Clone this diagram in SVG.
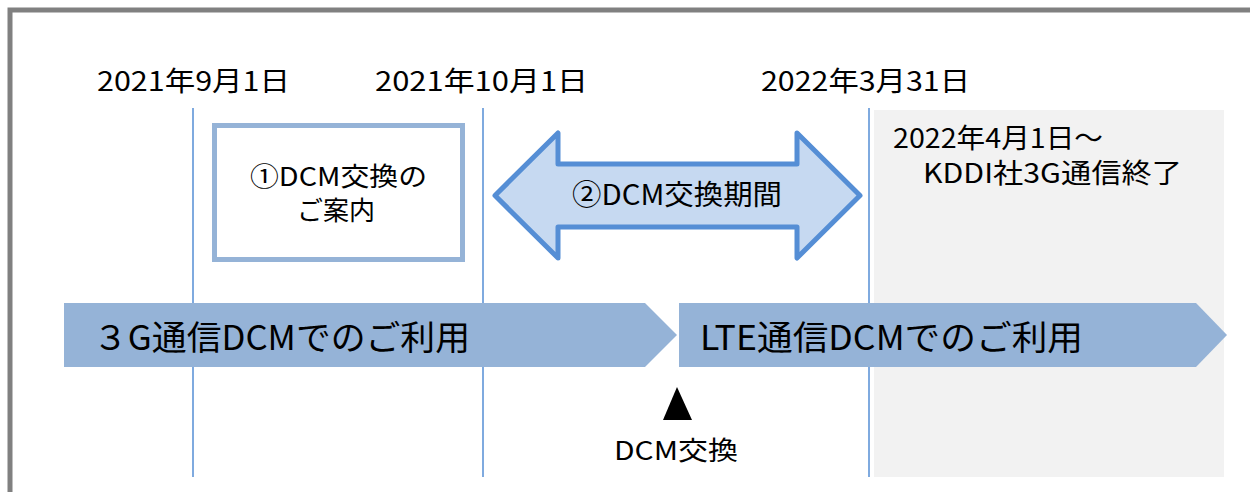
<svg xmlns="http://www.w3.org/2000/svg" width="1250" height="492" viewBox="0 0 1250 492">
<style>
text{font-family:"Noto Sans CJK JP","Noto Sans",sans-serif;fill:#000;}
.date{font-size:27px;text-anchor:middle;}
.lbl{font-size:26px;}
.bar{fill:#95b3d7;}
.barText{font-size:34px;}
.vline{stroke:#558ed5;stroke-width:1.5;fill:none;}
</style>
<rect x="0" y="0" width="1250" height="492" fill="#fff"/>
<rect x="10" y="10" width="1300" height="600" fill="#fff" stroke="#808080" stroke-width="5"/>
<g id="period-end">
<rect x="874" y="110" width="350" height="367" fill="#f2f2f2"/>
<text class="lbl" x="893" y="148" textLength="210" lengthAdjust="spacingAndGlyphs" style="font-size:27px">2022年4月1日～</text>
<text class="lbl" x="923" y="183" textLength="259" lengthAdjust="spacingAndGlyphs" style="font-size:27px">KDDI社3G通信終了</text>
</g>
<g id="connectors">
<line class="vline" x1="193" y1="108" x2="193" y2="477"/>
<line class="vline" x1="483" y1="108" x2="483" y2="477"/>
<line class="vline" x1="869" y1="108" x2="869" y2="477"/>
</g>
<g id="dates">
<text class="date" x="193.5" y="91" textLength="193" lengthAdjust="spacingAndGlyphs">2021年9月1日</text>
<text class="date" x="481.5" y="91" textLength="213" lengthAdjust="spacingAndGlyphs">2021年10月1日</text>
<text class="date" x="865.5" y="91" textLength="209" lengthAdjust="spacingAndGlyphs">2022年3月31日</text>
</g>
<g id="notice">
<rect x="214.5" y="125.5" width="248" height="134" fill="#fff" stroke="#95b3d7" stroke-width="5"/>
<text class="lbl" x="250" y="186" textLength="177" lengthAdjust="spacingAndGlyphs">①DCM交換の</text>
<text class="lbl" x="297" y="220" textLength="78" lengthAdjust="spacingAndGlyphs">ご案内</text>
</g>
<g id="exchange-period">
<path d="M495,195.5 L558,133 L558,164 L797,164 L797,133 L860,195.5 L797,258 L797,227 L558,227 L558,258 Z" fill="#c6d9f1" stroke="#558ed5" stroke-width="5" stroke-linejoin="round"/>
<text class="lbl" x="572" y="205" textLength="210" lengthAdjust="spacingAndGlyphs" style="font-size:28px">②DCM交換期間</text>
</g>
<g id="bar-3g">
<path class="bar" d="M64,303 L645,303 L677,335 L645,367 L64,367 Z"/>
<text class="barText" x="93" y="350" textLength="377" lengthAdjust="spacingAndGlyphs">３G通信DCMでのご利用</text>
</g>
<g id="bar-lte">
<path class="bar" d="M679,303 L1196,303 L1227,335 L1196,367 L679,367 Z"/>
<text class="barText" x="700" y="350" textLength="383" lengthAdjust="spacingAndGlyphs">LTE通信DCMでのご利用</text>
</g>
<g id="dcm-exchange">
<path d="M677,387 L692,420 L663,420 Z" fill="#000"/>
<text class="lbl" x="614" y="460" textLength="124" lengthAdjust="spacingAndGlyphs">DCM交換</text>
</g>
</svg>
